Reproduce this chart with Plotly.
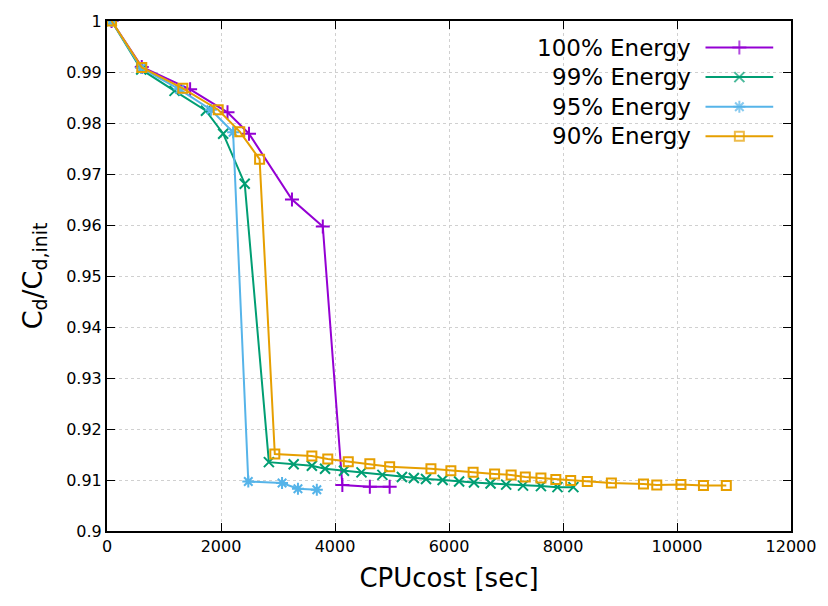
import plotly.graph_objects as go

# ---- data ----
labels = ["100% Energy", "99% Energy", "95% Energy", "90% Energy"]
colors = ["#9400d3", "#009e73", "#56b4e9", "#e69f00"]
symbols = ["cross-thin", "x-thin", "asterisk", "square-open"]

x100 = [80, 610, 1458, 2114, 2491, 3245, 3786, 4129, 4611, 4959]
y100 = [1.0, 0.9910, 0.9866, 0.9821, 0.9779, 0.9650, 0.9597, 0.9090, 0.9087, 0.9087]

x99 = [80, 600, 1185, 1736, 2038, 2416, 2840, 3275, 3594, 3826, 4157, 4465, 4831,
       5174, 5383, 5597, 5888, 6177, 6438, 6729, 7003, 7299, 7613, 7903, 8182]
y99 = [1.0, 0.9905, 0.9863, 0.9824, 0.9779, 0.9681, 0.9135, 0.9131, 0.9128, 0.9122,
       0.9118, 0.9115, 0.9110, 0.9106, 0.9104, 0.9102, 0.9100, 0.9097, 0.9095,
       0.9093, 0.9091, 0.9089, 0.9088, 0.9086, 0.9086]

x95 = [80, 600, 1272, 1823, 2212, 2479, 3071, 3350, 3681]
y95 = [1.0, 0.9908, 0.9866, 0.9826, 0.9782, 0.9097, 0.9094, 0.9083, 0.9081]

x90 = [80, 610, 1330, 1951, 2329, 2677, 2944, 3594, 3873, 4233, 4611, 4959, 5683,
       6033, 6423, 6800, 7090, 7339, 7613, 7874, 8135, 8426, 8849, 9412, 9645,
       10069, 10464, 10865]
y90 = [1.0, 0.9909, 0.9868, 0.9826, 0.9783, 0.9729, 0.9151, 0.9147, 0.9141, 0.9136,
       0.9132, 0.9126, 0.9122, 0.9118, 0.9115, 0.9112, 0.9110, 0.9106, 0.9104,
       0.9101, 0.9099, 0.9097, 0.9094, 0.9092, 0.9090, 0.9091, 0.9089, 0.9089]

xticks = [0, 2000, 4000, 6000, 8000, 10000, 12000]
xticklabels = ["0", "2000", "4000", "6000", "8000", "10000", "12000"]
yticks = [0.9, 0.91, 0.92, 0.93, 0.94, 0.95, 0.96, 0.97, 0.98, 0.99, 1.0]
yticklabels = ["0.9", "0.91", "0.92", "0.93", "0.94", "0.95", "0.96", "0.97", "0.98", "0.99", "1"]

xs = [x100, x99, x95, x90]
ys = [y100, y99, y95, y90]

FONT = "DejaVu Sans, sans-serif"

fig = go.Figure()
for i in range(4):
    fig.add_trace(go.Scatter(
        x=xs[i], y=ys[i], mode="lines+markers", name=labels[i],
        line=dict(color=colors[i], width=2),
        marker=dict(symbol=symbols[i], size=10 if i != 3 else 9, color=colors[i],
                    line=dict(color=colors[i], width=2)),
        showlegend=False,
    ))

# ---- custom legend (text left, sample right, like gnuplot) ----
leg_y = [0.948, 0.890, 0.832, 0.774]
lx0, lx1 = 0.875, 0.974
for i in range(4):
    fig.add_trace(go.Scatter(
        x=[lx0, (lx0 + lx1) / 2, lx1], y=[leg_y[i]] * 3,
        xaxis="x2", yaxis="y2", mode="lines+markers",
        line=dict(color=colors[i], width=2),
        marker=dict(symbol=symbols[i], size=[0, 10 if i != 3 else 9, 0], color=colors[i],
                    line=dict(color=colors[i], width=2)),
        showlegend=False, hoverinfo="skip",
    ))
    fig.add_annotation(
        x=0.857, y=leg_y[i], xref="paper", yref="paper", xanchor="right", yanchor="middle",
        text=labels[i], showarrow=False, font=dict(family=FONT, size=23, color="black"),
    )

fig.update_layout(
    width=828, height=606,
    margin=dict(l=107, r=32, t=14, b=75),
    paper_bgcolor="white", plot_bgcolor="white",
    font=dict(family=FONT, size=16, color="black"),
    xaxis=dict(
        range=[0, 12000], tickvals=xticks, ticktext=xticklabels,
        ticks="inside", ticklen=8, tickcolor="black", tickwidth=1,
        showline=True, linecolor="black", linewidth=2, mirror="ticks",
        showgrid=True, gridcolor="#d0d0d0", griddash="dot", gridwidth=1,
        zeroline=False,
        title=dict(text="CPUcost [sec]", font=dict(size=26), standoff=14),
        tickfont=dict(size=16),
    ),
    yaxis=dict(
        range=[0.9, 1.0], tickvals=yticks, ticktext=yticklabels,
        ticks="inside", ticklen=8, tickcolor="black", tickwidth=1,
        showline=True, linecolor="black", linewidth=2, mirror="ticks",
        showgrid=True, gridcolor="#d0d0d0", griddash="dot", gridwidth=1,
        zeroline=False,
        title=dict(text="C<sub>d</sub>/C<sub>d,init</sub>", font=dict(size=27), standoff=16),
        tickfont=dict(size=16),
    ),
    xaxis2=dict(overlaying="x", range=[0, 1], visible=False),
    yaxis2=dict(overlaying="y", range=[0, 1], visible=False),
)

fig.write_html("out.html")
